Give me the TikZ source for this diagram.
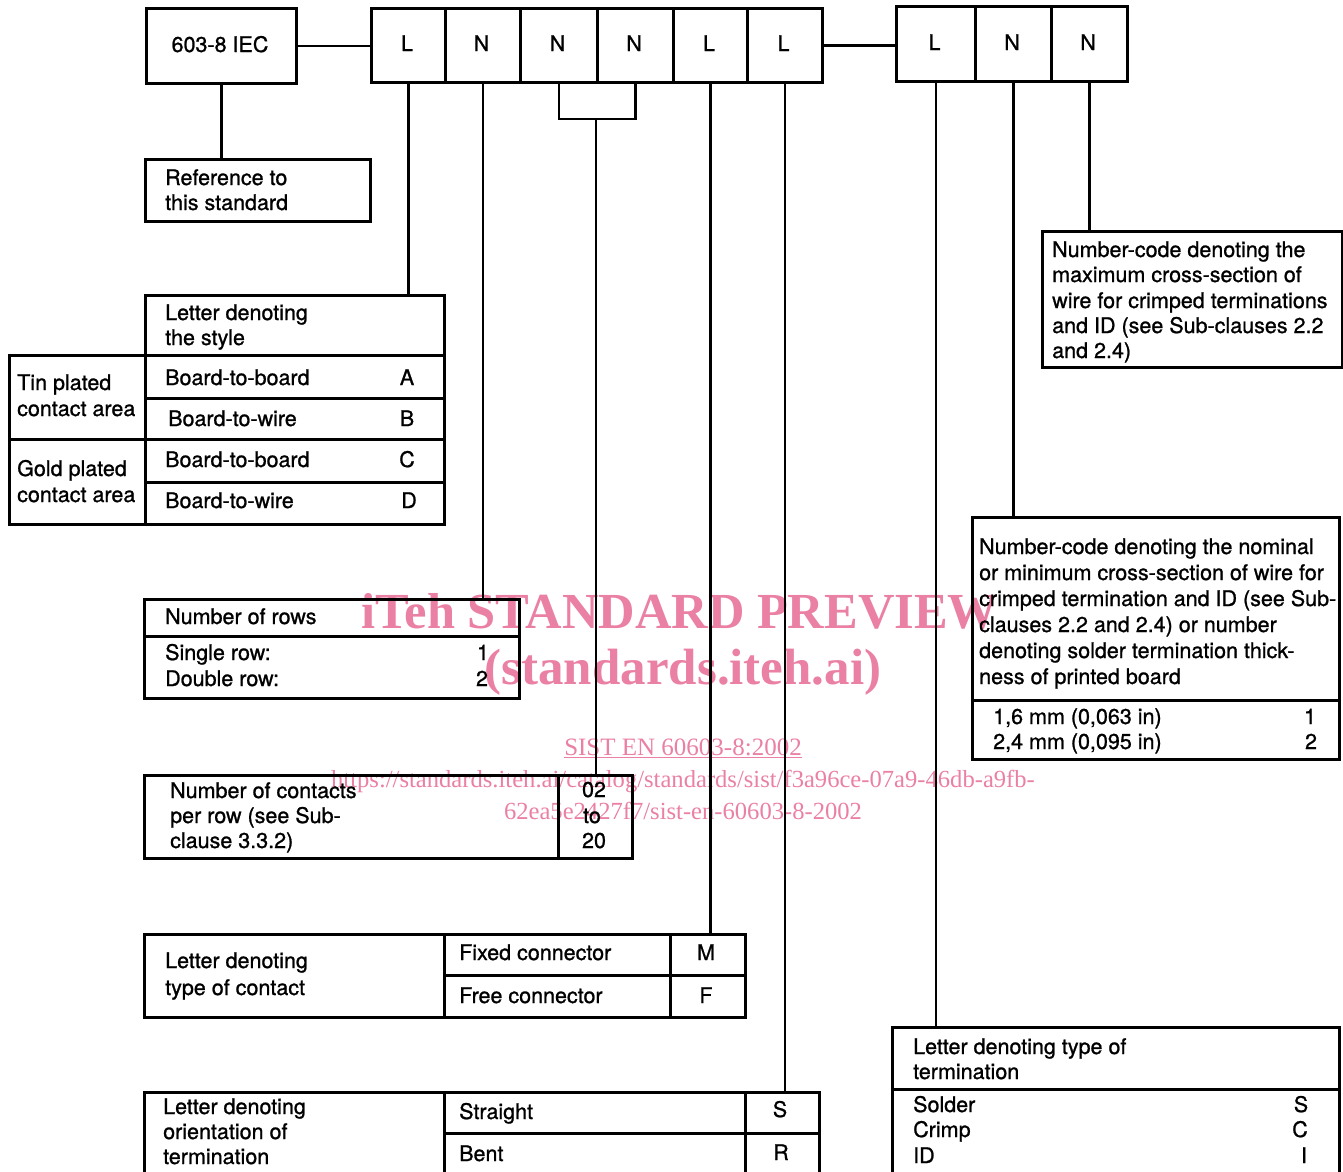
\documentclass[tikz,border=0pt]{standalone}
\usepackage{fontspec}
\setmainfont{TeX Gyre Heros}[FakeBold=1.0]
\newfontfamily\wmfont{Liberation Serif}
\definecolor{wm}{RGB}{234,128,163}
\tikzset{
  box/.style={draw, line width=2.6pt, inner sep=0pt, anchor=north west},
  txt/.style={inner sep=0pt, font=\fontsize{21.5}{25}\selectfont},
  con/.style={line width=2.6pt},
  wmtxt/.style={text=wm, inner sep=0pt, anchor=base},
}
\newcommand\bx[5]{\node[box, minimum width={(#4-#2)*1pt}, minimum height={(#5-#3)*1pt}] (#1) at (#2,#3) {};}
\newcommand\tline[4]{\node[txt, anchor=base west] (#1) at (#2,#3) {#4};}
\newcommand\tcent[4]{\node[txt, anchor=base] (#1) at (#2,#3) {#4};}
\begin{document}
\begin{tikzpicture}[x=1pt,y=-1pt]
\useasboundingbox (0,0) rectangle (1343,1171);
% watermark
\node[wmtxt, font=\wmfont\bfseries\fontsize{50.5}{52}\selectfont] (wm1) at (680,628) {iTeh STANDARD PREVIEW};
\node[wmtxt, font=\wmfont\bfseries\fontsize{51}{52}\selectfont] (wm2) at (683,684) {(standards.iteh.ai)};
\node[wmtxt, font=\wmfont\fontsize{25}{26}\selectfont] (wm3) at (683,755) {\underline{SIST EN 60603-8:2002}};
\node[wmtxt, font=\wmfont\fontsize{24.6}{26}\selectfont] (wm4) at (683,787) {https://standards.iteh.ai/catalog/standards/sist/f3a96ce-07a9-46db-a9fb-};
\node[wmtxt, font=\wmfont\fontsize{24.6}{26}\selectfont] (wm5) at (683,819) {62ea5e2427f7/sist-en-60603-8-2002};
% top boxes
\bx{iec}{145}{7}{295}{82}
\bx{L1}{370}{7}{444}{81}
\bx{N1}{444}{7}{519}{81}
\bx{N2}{519}{7}{596}{81}
\bx{N3}{596}{7}{672}{81}
\bx{L2}{672}{7}{746}{81}
\bx{L3}{746}{7}{821}{81}
\bx{L4}{895}{5}{974}{80}
\bx{N4}{974}{5}{1050}{80}
\bx{N5}{1050}{5}{1126}{80}
\tcent{tiec}{220}{52}{603-8 IEC}
\tcent{tL1}{407}{51}{L}
\tcent{tN1}{481.5}{51}{N}
\tcent{tN2}{557.5}{51}{N}
\tcent{tN3}{634}{51}{N}
\tcent{tL2}{709}{51}{L}
\tcent{tL3}{783.5}{51}{L}
\tcent{tL4}{934.5}{50}{L}
\tcent{tN4}{1012}{50}{N}
\tcent{tN5}{1088}{50}{N}
% reference box
\bx{ref}{144}{158}{369}{220}
\tline{r1}{165}{185}{Reference to}
\tline{r2}{165}{210}{this standard}
% style table
\bx{sthead}{144}{294}{443}{354}
\bx{stA}{144}{354}{443}{397}
\bx{stB}{144}{397}{443}{438}
\bx{stC}{144}{438}{443}{481}
\bx{stD}{144}{481}{443}{523}
\bx{tin}{8}{354}{144}{438}
\bx{gold}{8}{438}{144}{523}
\tline{s1}{165}{320}{Letter denoting}
\tline{s2}{165}{345}{the style}
\tline{sa}{165}{385}{Board-to-board}
\tline{sb}{168}{426}{Board-to-wire}
\tline{sc}{165}{467}{Board-to-board}
\tline{sd}{165}{508}{Board-to-wire}
\tcent{la}{407}{385}{A}
\tcent{lb}{407}{426}{B}
\tcent{lc}{407}{467}{C}
\tcent{ld}{409}{508}{D}
\tline{tp1}{17}{390}{Tin plated}
\tline{tp2}{17}{416}{contact area}
\tline{gp1}{17}{476}{Gold plated}
\tline{gp2}{17}{502}{contact area}
% rows
\bx{rowh}{143}{598}{518}{635}
\bx{rowv}{143}{635}{518}{697}
\tline{nr}{165}{624}{Number of rows}
\tline{nr1}{165}{660}{Single row:}
\tline{nr2}{165}{686}{Double row:}
\tcent{v1}{483}{660}{1}
\tcent{v2}{482}{686}{2}
% contacts
\bx{cont}{143}{774}{557}{857}
\bx{range}{557}{774}{631}{857}
\tline{nc1}{170}{798}{Number of contacts}
\tline{nc2}{170}{823}{per row (see Sub-}
\tline{nc3}{170}{848}{clause 3.3.2)}
\tcent{g1}{594}{797}{02}
\tcent{g2}{592}{823}{to}
\tcent{g3}{594}{848}{20}
% type of contact
\bx{tc}{143}{933}{443}{1016}
\bx{fix}{443}{933}{669}{974}
\bx{free}{443}{974}{669}{1016}
\bx{M}{669}{933}{744}{974}
\bx{F}{669}{974}{744}{1016}
\tline{tc1}{165}{968}{Letter denoting}
\tline{tc2}{165}{995}{type of contact}
\tline{fx}{459}{960}{Fixed connector}
\tline{fr}{459}{1003}{Free connector}
\tcent{lm}{706}{960}{M}
\tcent{lf}{706}{1003}{F}
% orientation
\bx{ori}{143}{1091}{443}{1190}
\bx{str}{443}{1091}{744}{1132}
\bx{bent}{443}{1132}{744}{1190}
\bx{S}{744}{1091}{818}{1132}
\bx{R}{744}{1132}{818}{1190}
\tline{o1}{163}{1114}{Letter denoting}
\tline{o2}{163}{1139}{orientation of}
\tline{o3}{163}{1164}{termination}
\tline{os}{459}{1119}{Straight}
\tline{ob}{459}{1161}{Bent}
\tcent{ls}{780}{1117}{S}
\tcent{lr}{781}{1160}{R}
% max cross-section
\bx{maxcs}{1041}{230}{1341}{366}
\tline{m1}{1052}{257}{Number-code denoting the}
\tline{m2}{1052}{282}{maximum cross-section of}
\tline{m3}{1052}{308}{wire for crimped terminations}
\tline{m4}{1052}{333}{and ID (see Sub-clauses 2.2}
\tline{m5}{1052}{358}{and 2.4)}
% nominal
\bx{nom}{971}{516}{1338}{699}
\bx{nomv}{971}{699}{1338}{758}
\tline{n1}{979}{554}{Number-code denoting the nominal}
\tline{n2}{979}{580}{or minimum cross-section of wire for}
\tline{n3}{979}{606}{crimped termination and ID (see Sub-}
\tline{n4}{979}{632}{clauses 2.2 and 2.4) or number}
\tline{n5}{979}{658}{denoting solder termination thick-}
\tline{n6}{979}{684}{ness of printed board}
\tline{nv1}{993}{724}{1,6 mm (0,063 in)}
\tline{nv2}{993}{749}{2,4 mm (0,095 in)}
\tcent{nl1}{1310}{724}{1}
\tcent{nl2}{1311}{749}{2}
% termination
\bx{term}{891}{1026}{1338}{1088}
\bx{termv}{891}{1088}{1338}{1190}
\tline{te1}{913}{1054}{Letter denoting type of}
\tline{te2}{913}{1079}{termination}
\tline{te3}{913}{1112}{Solder}
\tline{te4}{913}{1137}{Crimp}
\tline{te5}{913}{1163}{ID}
\tcent{tes}{1301}{1112}{S}
\tcent{tec}{1300}{1137}{C}
\tcent{tei}{1304}{1163}{I}
% connectors
\coordinate (br) at (596,119);
\draw[con] (iec.east) -- (iec.east -| L1.west);
\draw[con] (L3.east) -- (L3.east -| L4.west);
\draw[con] (iec.south) -- (iec.south |- ref.north);
\draw[con] (L1.south) -- (L1.south |- sthead.north);
\draw[con] (N1.south) -- (N1.south |- rowh.north);
\draw[con] (N2.south) |- (br) -| (N3.south);
\draw[con] (br) -- (br |- range.north);
\draw[con] (L2.south) -- (L2.south |- M.north);
\draw[con] (L3.south) -- (L3.south |- S.north);
\draw[con] (L4.south) -- (L4.south |- term.north);
\draw[con] (N4.south) -- (N4.south |- nom.north);
\draw[con] (N5.south) -- (N5.south |- maxcs.north);
\end{tikzpicture}
\end{document}
